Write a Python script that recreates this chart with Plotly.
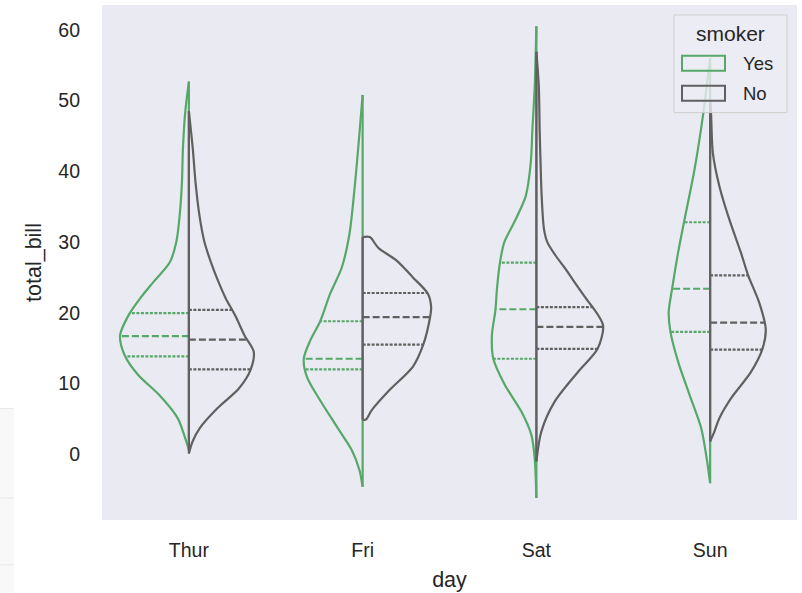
import numpy as np
import plotly.graph_objects as go

days = ["Thur", "Fri", "Sat", "Sun"]
smoker_levels = ["Yes", "No"]

# Density profiles: total_bill grid and relative density (widest half = 1)
thur_yes_bill = [0.6, 2.7, 5.1, 8.4, 11.2, 14.0, 16.8, 19.6, 22.0, 24.3, 27.1, 30.0, 33.7, 38.4, 43.1, 48.3, 52.7]
thur_yes_dens = [0.0, 0.067, 0.161, 0.429, 0.729, 0.924, 0.99, 0.871, 0.704, 0.514, 0.276, 0.181, 0.133, 0.10, 0.086, 0.053, 0.0]
thur_no_bill = [0.1, 1.8, 3.7, 6.5, 9.3, 11.9, 14.5, 16.8, 19.6, 22.0, 24.3, 27.1, 30.0, 33.7, 38.4, 43.1, 48.5]
thur_no_dens = [0.0, 0.053, 0.157, 0.41, 0.719, 0.886, 0.933, 0.80, 0.667, 0.533, 0.429, 0.319, 0.224, 0.153, 0.096, 0.057, 0.0]

fri_yes_bill = [-4.6, -2.2, 0.6, 3.9, 7.6, 10.9, 13.5, 16.1, 18.8, 22.7, 26.4, 31.1, 38.2, 45.2, 50.8]
fri_yes_dens = [0.0, 0.047, 0.157, 0.371, 0.61, 0.80, 0.847, 0.753, 0.61, 0.467, 0.30, 0.19, 0.11, 0.047, 0.0]
fri_no_bill = [4.9, 4.9, 6.2, 9.1, 12.4, 15.6, 19.4, 20.8, 22.7, 25.0, 27.4, 29.2, 30.7, 30.7]
fri_no_dens = [0.0, 0.047, 0.129, 0.39, 0.724, 0.876, 0.971, 0.986, 0.939, 0.724, 0.486, 0.224, 0.104, 0.0]

sat_yes_bill = [-6.2, -0.6, 2.7, 6.0, 9.8, 13.5, 16.8, 20.3, 23.4, 27.1, 30.0, 32.8, 36.5, 41.2, 45.9, 52.0, 60.5]
sat_yes_dens = [0.0, 0.024, 0.071, 0.214, 0.453, 0.619, 0.64, 0.59, 0.567, 0.524, 0.461, 0.319, 0.153, 0.081, 0.057, 0.024, 0.0]
sat_no_bill = [-1.0, 3.2, 7.4, 11.6, 14.9, 18.2, 20.6, 21.5, 23.8, 26.2, 28.1, 30.0, 31.8, 36.5, 41.2, 45.9, 52.0, 56.9]
sat_no_dens = [0.0, 0.071, 0.261, 0.596, 0.881, 0.96, 0.824, 0.753, 0.586, 0.419, 0.276, 0.157, 0.11, 0.076, 0.06, 0.047, 0.035, 0.0]

sun_yes_bill = [-4.1, -1.0, 3.7, 8.4, 13.1, 17.3, 20.1, 23.4, 28.5, 32.8, 40.3, 47.8, 52.0, 56.0]
sun_yes_dens = [0.0, 0.043, 0.129, 0.296, 0.461, 0.571, 0.596, 0.547, 0.461, 0.376, 0.224, 0.104, 0.05, 0.0]
sun_no_bill = [1.8, 3.2, 5.1, 7.9, 11.6, 14.9, 17.7, 21.5, 25.3, 28.5, 33.2, 37.9, 42.6, 48.0, 50.0]
sun_no_dens = [0.0, 0.061, 0.133, 0.30, 0.586, 0.753, 0.80, 0.704, 0.547, 0.443, 0.276, 0.133, 0.039, 0.014, 0.0]

# Quartiles (Q1, median, Q3) of total_bill
thur_yes_quart = [13.85, 16.7, 19.95]
thur_no_quart = [12.0, 16.2, 20.4]
fri_yes_quart = [12.0, 13.5, 18.8]
fri_no_quart = [15.5, 19.4, 22.8]
sat_yes_quart = [13.5, 20.5, 27.1]
sat_no_quart = [14.9, 18.0, 20.8]
sun_yes_quart = [17.3, 23.4, 32.8]
sun_no_quart = [14.8, 18.6, 25.3]

groups = {
    ("Thur", "Yes"): (thur_yes_bill, thur_yes_dens, thur_yes_quart),
    ("Thur", "No"): (thur_no_bill, thur_no_dens, thur_no_quart),
    ("Fri", "Yes"): (fri_yes_bill, fri_yes_dens, fri_yes_quart),
    ("Fri", "No"): (fri_no_bill, fri_no_dens, fri_no_quart),
    ("Sat", "Yes"): (sat_yes_bill, sat_yes_dens, sat_yes_quart),
    ("Sat", "No"): (sat_no_bill, sat_no_dens, sat_no_quart),
    ("Sun", "Yes"): (sun_yes_bill, sun_yes_dens, sun_yes_quart),
    ("Sun", "No"): (sun_no_bill, sun_no_dens, sun_no_quart),
}

COLORS = {"Yes": "#55A868", "No": "#606060"}
SIDE = {"Yes": -1, "No": 1}
HALF = 0.4
LW = 2.2
FONT = "Liberation Sans, Arial, sans-serif"
TEXT = "#262626"

fig = go.Figure()
for level in smoker_levels:
    col = COLORS[level]
    s = SIDE[level]
    for i, day in enumerate(days):
        bill, dens, quart = groups[(day, level)]
        bill = np.asarray(bill, float)
        dens = np.asarray(dens, float)
        xs = i + s * HALF * dens
        fig.add_trace(go.Scatter(x=xs, y=bill, mode="lines",
                                 line=dict(color=col, width=LW, shape="spline", smoothing=0.8),
                                 showlegend=False, hoverinfo="skip"))
        fig.add_trace(go.Scatter(x=[i, i], y=[bill.min(), bill.max()], mode="lines",
                                 line=dict(color=col, width=LW),
                                 showlegend=False, hoverinfo="skip"))
        for k, q in enumerate(quart):
            w = np.interp(q, bill, dens) * HALF
            dash = "7px,3px" if k == 1 else "3px,1.5px"
            fig.add_trace(go.Scatter(x=[i, i + s * w], y=[q, q], mode="lines",
                                     line=dict(color=col, width=LW, dash=dash),
                                     showlegend=False, hoverinfo="skip"))

# plot area in pixels: x 102..797, y 5..522
W, H = 802, 593
L, R, T, B = 102, 5, 5, 71
pw, ph = W - L - R, H - T - B

def px(x):
    return (x - L) / pw

def py(y):
    return 1 - (y - T) / ph

shapes = [
    # faint strip at the left edge of the screenshot
    dict(type="rect", xref="paper", yref="paper", x0=px(-2), x1=px(14), y0=py(595), y1=py(410),
         fillcolor="#f8f8f8", line=dict(width=0), layer="below"),
    dict(type="line", xref="paper", yref="paper", x0=px(0), x1=px(14), y0=py(410), y1=py(410),
         line=dict(color="#e8e8e8", width=1)),
    dict(type="line", xref="paper", yref="paper", x0=px(0), x1=px(14), y0=py(500), y1=py(500),
         line=dict(color="#e8e8e8", width=1)),
    dict(type="line", xref="paper", yref="paper", x0=px(0), x1=px(14), y0=py(567), y1=py(567),
         line=dict(color="#e8e8e8", width=1)),
    # legend
    dict(type="rect", xref="paper", yref="paper", x0=px(674), x1=px(787), y0=py(113), y1=py(15),
         fillcolor="rgba(236,236,244,0.8)", line=dict(color="#cfcfcf", width=1), layer="above"),
    dict(type="rect", xref="paper", yref="paper", x0=px(682), x1=px(725), y0=py(71), y1=py(56),
         fillcolor="rgba(0,0,0,0)", line=dict(color=COLORS["Yes"], width=2), layer="above"),
    dict(type="rect", xref="paper", yref="paper", x0=px(682), x1=px(725), y0=py(101), y1=py(86),
         fillcolor="rgba(0,0,0,0)", line=dict(color=COLORS["No"], width=2), layer="above"),
]
annotations = [
    dict(text="smoker", xref="paper", yref="paper", x=px(730), y=py(34), showarrow=False,
         xanchor="center", yanchor="middle", font=dict(size=21, color=TEXT, family=FONT)),
    dict(text="Yes", xref="paper", yref="paper", x=px(741), y=py(64), showarrow=False,
         xanchor="left", yanchor="middle", font=dict(size=18.5, color=TEXT, family=FONT)),
    dict(text="No", xref="paper", yref="paper", x=px(741), y=py(94), showarrow=False,
         xanchor="left", yanchor="middle", font=dict(size=18.5, color=TEXT, family=FONT)),
]

fig.update_layout(
    width=W, height=H,
    margin=dict(l=L, r=R, t=T, b=B),
    paper_bgcolor="white",
    plot_bgcolor="#EAEAF2",
    font=dict(family=FONT, size=19, color=TEXT),
    shapes=shapes,
    annotations=annotations,
    showlegend=False,
)
fig.update_xaxes(range=[-0.5, 3.5], tickmode="array", tickvals=list(range(len(days))), ticktext=days,
                 showgrid=False, zeroline=False, showline=False, ticks="",
                 ticklabelstandoff=16, tickfont=dict(size=19.5, color=TEXT),
                 title=dict(text="day", font=dict(size=21.5, color=TEXT), standoff=12))
fig.update_yaxes(range=[-9.3, 63.52], tickmode="array", tickvals=[0, 10, 20, 30, 40, 50, 60],
                 showgrid=False, zeroline=False, showline=False, ticks="",
                 ticklabelstandoff=21, tickfont=dict(size=19.5, color=TEXT),
                 title=dict(text="total_bill", font=dict(size=21.5, color=TEXT), standoff=10))

fig.write_html("out.html", config={"displayModeBar": False},
               post_script="document.body.style.margin='0px';")
